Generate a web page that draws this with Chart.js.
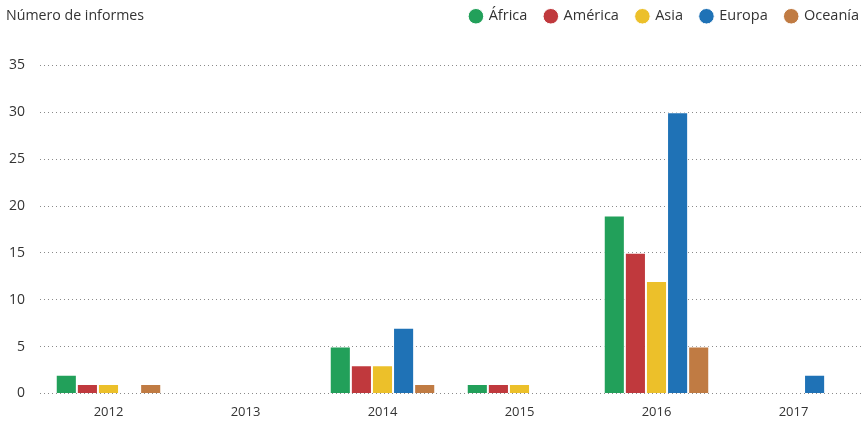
<!DOCTYPE html>
<html>
<head>
<meta charset="utf-8">
<script src="https://cdn.jsdelivr.net/npm/chart.js@4"></script>
<style>
  html, body { margin: 0; padding: 0; background: #fff; }
  #wrap { position: relative; width: 865px; height: 424px; }
  #yTitle { position: absolute; left: 6px; top: 5px; font: 14.2px "Open Sans", sans-serif; color: #333; }
</style>
</head>
<body>
<div id="wrap">
  <div id="yTitle">Número de informes</div>
  <canvas id="informesChart" width="865" height="424"></canvas>
</div>
<script>
// Data
const years = ['2012', '2013', '2014', '2015', '2016', '2017'];
const africa = [2, 0, 5, 1, 19, 0];
const america = [1, 0, 3, 1, 15, 0];
const asia = [1, 0, 3, 1, 12, 0];
const europa = [0, 0, 7, 0, 30, 2];
const oceania = [1, 0, 1, 0, 5, 0];

const seriesNames = ['África', 'América', 'Asia', 'Europa', 'Oceanía'];
const seriesColors = ['#22a05a', '#c0393d', '#ecc02a', '#1f72b6', '#c07b43'];
const seriesData = [africa, america, asia, europa, oceania];

// Push the plot area down below the legend, nudge legend to the right edge
const legendSpacer = {
  id: 'legendSpacer',
  beforeInit(chart) {
    const origFit = chart.legend.fit;
    chart.legend.fit = function () {
      origFit.bind(chart.legend)();
      this.height += 32;
    };
  },
  afterLayout(chart) {
    chart.legend.right += 15;
    chart.legend.left += 15;
  }
};

const ctx = document.getElementById('informesChart');
new Chart(ctx.getContext('2d'), {
  type: 'bar',
  data: {
    labels: years,
    datasets: seriesNames.map((name, i) => ({
      label: name,
      data: seriesData[i],
      backgroundColor: seriesColors[i],
      borderColor: '#ffffff',
      borderWidth: 1,
      categoryPercentage: 0.77,
      barPercentage: 1
    }))
  },
  options: {
    responsive: false,
    animation: false,
    layout: { padding: { top: -9, right: 3, bottom: 1, left: 0 } },
    plugins: {
      legend: {
        position: 'top',
        align: 'end',
        labels: {
          usePointStyle: true,
          pointStyle: 'circle',
          boxWidth: 11,
          boxHeight: 11,
          padding: 18,
          color: '#333',
          font: { family: '"Open Sans", sans-serif', size: 14.5 }
        }
      },
      tooltip: { enabled: false }
    },
    scales: {
      x: {
        grid: { display: false },
        border: { display: false },
        ticks: {
          color: '#333',
          padding: 3,
          font: { family: '"Open Sans", sans-serif', size: 13 }
        }
      },
      y: {
        min: 0,
        max: 35,
        afterFit: scale => { scale.width = 40; },
        border: { display: false, dash: [1, 3] },
        grid: {
          color: '#8a8a8a',
          lineWidth: 1,
          drawTicks: false
        },
        ticks: {
          stepSize: 5,
          padding: 15,
          color: '#333',
          font: { family: '"Open Sans", sans-serif', size: 14 }
        }
      }
    }
  },
  plugins: [legendSpacer]
});
</script>
</body>
</html>
